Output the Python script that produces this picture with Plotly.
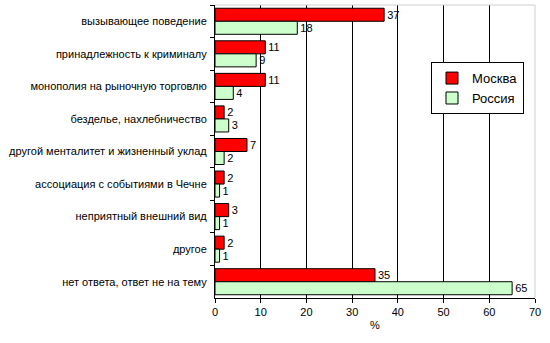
import plotly.graph_objects as go

categories = ["вызывающее поведение", "принадлежность к криминалу", "монополия на рыночную торговлю",
              "безделье, нахлебничество", "другой менталитет и жизненный уклад",
              "ассоциация с событиями в Чечне", "неприятный внешний вид", "другое",
              "нет ответа, ответ не на тему"]
moscow = [37, 11, 11, 2, 7, 2, 3, 2, 35]
russia = [18, 9, 4, 3, 2, 1, 1, 1, 65]
x_ticks = [0, 10, 20, 30, 40, 50, 60, 70]

font = "Liberation Sans, Arial, sans-serif"
fig = go.Figure()
fig.add_trace(go.Bar(y=categories, x=moscow, name="Москва", orientation="h",
                     marker=dict(color="#FF0000", line=dict(color="black", width=1)),
                     text=moscow, textposition="outside", cliponaxis=False,
                     textfont=dict(family=font, size=11, color="black")))
fig.add_trace(go.Bar(y=categories, x=russia, name="Россия", orientation="h",
                     marker=dict(color="#CCFFCC", line=dict(color="black", width=1)),
                     text=russia, textposition="outside", cliponaxis=False,
                     textfont=dict(family=font, size=11, color="black")))

fig.update_layout(
    width=550, height=343, barmode="group", bargap=0.2, bargroupgap=0,
    margin=dict(l=215, r=15, t=5, b=45),
    paper_bgcolor="white", plot_bgcolor="white",
    font=dict(family=font, size=11, color="black"),
    showlegend=True,
    legend=dict(x=0.675, y=0.805, xanchor="left", yanchor="top",
                bgcolor="white", bordercolor="black", borderwidth=1,
                font=dict(family=font, size=13, color="black"),
                itemwidth=30),
    xaxis=dict(range=[0, 70], tickvals=x_ticks, showgrid=True, gridcolor="black", gridwidth=1,
               showline=True, linecolor="black", ticks="outside", ticklen=4, tickcolor="black",
               zeroline=False, title=dict(text="%", font=dict(size=11), standoff=4),
               mirror=False),
    yaxis=dict(autorange="reversed", showline=True, linecolor="black", ticks="outside",
               ticklen=4, tickcolor="black", tickson="boundaries", showgrid=False,
               ticklabelstandoff=5),
    shapes=[
        dict(type="line", xref="paper", yref="paper", x0=0, x1=1, y0=1, y1=1,
             line=dict(color="#D0D0D0", width=1)),
        dict(type="line", xref="paper", yref="paper", x0=1, x1=1, y0=0, y1=1,
             line=dict(color="#D0D0D0", width=1)),
    ],
)
fig.write_html("out.html")
